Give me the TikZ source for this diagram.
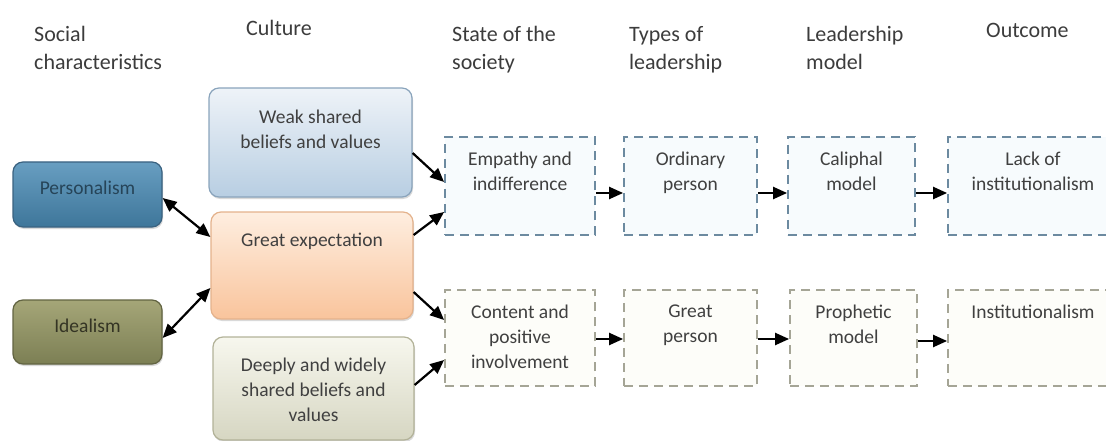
\documentclass[tikz,border=0pt]{standalone}
\usepackage{fontspec}
\setmainfont{Carlito}
\usetikzlibrary{positioning,arrows.meta,shadows}

\definecolor{headgray}{RGB}{60,60,60}
\definecolor{txtgray}{RGB}{64,64,64}
\definecolor{persA}{RGB}{104,158,193}
\definecolor{persB}{RGB}{62,118,154}
\definecolor{persD}{RGB}{58,98,128}
\definecolor{persT}{RGB}{38,68,88}
\definecolor{idealA}{RGB}{165,166,120}
\definecolor{idealB}{RGB}{124,127,84}
\definecolor{idealD}{RGB}{98,100,66}
\definecolor{idealT}{RGB}{52,52,36}
\definecolor{weakA}{RGB}{238,243,248}
\definecolor{weakB}{RGB}{184,206,226}
\definecolor{weakD}{RGB}{138,164,188}
\definecolor{greatA}{RGB}{254,238,224}
\definecolor{greatB}{RGB}{249,196,156}
\definecolor{greatD}{RGB}{228,178,140}
\definecolor{deepA}{RGB}{247,247,238}
\definecolor{deepB}{RGB}{214,214,194}
\definecolor{deepD}{RGB}{178,178,152}
\definecolor{dashA}{RGB}{108,138,160}
\definecolor{dashB}{RGB}{165,165,150}
\definecolor{fillA}{RGB}{247,251,253}
\definecolor{fillB}{RGB}{253,253,249}

\begin{document}
\begin{tikzpicture}[x=1pt,y=-1pt,
	head/.style={anchor=north west,inner sep=0pt,align=left,text=headgray,font=\fontsize{22}{28}\selectfont},
	rbox/.style={rounded corners=10pt,line width=1.2pt,drop shadow={shadow xshift=1pt,shadow yshift=-2pt,opacity=.3}},
	dbox/.style={draw,line width=1.8pt,dash pattern=on 9pt off 6pt},
	txt/.style={inner sep=0pt,align=center,text=txtgray,font=\fontsize{19.5}{25}\selectfont},
	arr/.style={-{Triangle[length=14pt,width=12pt]},line width=2.2pt},
	darr/.style={{Triangle[length=14pt,width=12pt]}-{Triangle[length=14pt,width=12pt]},line width=2.2pt}]
	\useasboundingbox (0,0) rectangle (1106,441);
	% column heads
	\node[head] (hsoc) at (34,26) {Social\\characteristics};
	\node[head] (hcul) at (246,20) {Culture};
	\node[head] (hsta) at (452,26) {State of the\\society};
	\node[head] (htyp) at (629,26) {Types of\\leadership};
	\node[head] (hmod) at (806,26) {Leadership\\model};
	\node[head] (hout) at (986,23) {Outcome};
	% social characteristics
	\node[rbox,draw=persD,top color=persA,bottom color=persB,minimum width=149pt,minimum height=65pt] (pers) at (87.5,194.5) {};
	\node[txt,text=persT,below=19pt of pers.north] (persL) {Personalism};
	\node[rbox,draw=idealD,top color=idealA,bottom color=idealB,minimum width=149pt,minimum height=64pt] (ideal) at (87.5,332) {};
	\node[txt,text=idealT,below=19pt of ideal.north] (idealL) {Idealism};
	% culture
	\node[rbox,draw=weakD,top color=weakA,bottom color=weakB,minimum width=203pt,minimum height=109pt] (weak) at (310.5,142.5) {};
	\node[txt,below=22pt of weak.north] (weakL) {Weak shared\\beliefs and values};
	\node[rbox,draw=greatD,top color=greatA,bottom color=greatB,minimum width=202pt,minimum height=107pt] (great) at (312,265.5) {};
	\node[txt,below=21pt of great.north] (greatL) {Great expectation};
	\node[rbox,draw=deepD,top color=deepA,bottom color=deepB,minimum width=201pt,minimum height=103pt] (deep) at (313.5,388.5) {};
	\node[txt,below=21pt of deep.north] (deepL) {Deeply and widely\\shared beliefs and\\values};
	% upper chain
	\node[dbox,draw=dashA,fill=fillA,minimum width=150pt,minimum height=98pt] (empathy) at (520,186) {};
	\node[txt,below=16pt of empathy.north] (empathyL) {Empathy and\\indifference};
	\node[dbox,draw=dashA,fill=fillA,minimum width=133pt,minimum height=98pt] (ordinary) at (690.5,186) {};
	\node[txt,below=16pt of ordinary.north] (ordinaryL) {Ordinary\\person};
	\node[dbox,draw=dashA,fill=fillA,minimum width=127pt,minimum height=98pt] (caliphal) at (851.5,186) {};
	\node[txt,below=16pt of caliphal.north] (caliphalL) {Caliphal\\model};
	\node[dbox,draw=dashA,fill=fillA,minimum width=170pt,minimum height=98pt] (lack) at (1033,186) {};
	\node[txt,below=16pt of lack.north] (lackL) {Lack of\\institutionalism};
	% lower chain
	\node[dbox,draw=dashB,fill=fillB,minimum width=150pt,minimum height=96pt] (content) at (520,338) {};
	\node[txt,below=16pt of content.north] (contentL) {Content and\\positive\\involvement};
	\node[dbox,draw=dashB,fill=fillB,minimum width=133pt,minimum height=96pt] (greatp) at (690.5,338) {};
	\node[txt,below=16pt of greatp.north] (greatpL) {Great\\person};
	\node[dbox,draw=dashB,fill=fillB,minimum width=127pt,minimum height=96pt] (prophetic) at (853.5,338) {};
	\node[txt,below=16pt of prophetic.north] (propheticL) {Prophetic\\model};
	\node[dbox,draw=dashB,fill=fillB,minimum width=170pt,minimum height=96pt] (inst) at (1033,338) {};
	\node[txt,below=16pt of inst.north] (instL) {Institutionalism};
	% links
	\draw[darr] ([yshift=-3.5pt]pers.east) -- ([yshift=28.5pt]great.west);
	\draw[darr] ([yshift=-6pt]ideal.east) -- ([yshift=-22.5pt]great.west);
	\draw[arr] ([yshift=-10.5pt]weak.east) -- ([yshift=4pt]empathy.west);
	\draw[arr] ([yshift=30.5pt]great.east) -- ([yshift=-26pt]empathy.west);
	\draw[arr] ([yshift=-26.5pt]great.east) -- ([yshift=18pt]content.west);
	\draw[arr] ([yshift=3.5pt]deep.east) -- ([yshift=-22pt]content.west);
	\draw[arr] ([yshift=-7pt]empathy.east) -- ([yshift=-7pt]ordinary.west);
	\draw[arr] ([yshift=-7pt]ordinary.east) -- ([yshift=-7pt]caliphal.west);
	\draw[arr] ([yshift=-7pt]caliphal.east) -- ([yshift=-7pt]lack.west);
	\draw[arr] ([yshift=-1pt]content.east) -- ([yshift=-1pt]greatp.west);
	\draw[arr] ([yshift=-1pt]greatp.east) -- ([yshift=-1pt]prophetic.west);
	\draw[arr] ([yshift=-3pt]prophetic.east) -- ([yshift=-3pt]inst.west);
\end{tikzpicture}
\end{document}
